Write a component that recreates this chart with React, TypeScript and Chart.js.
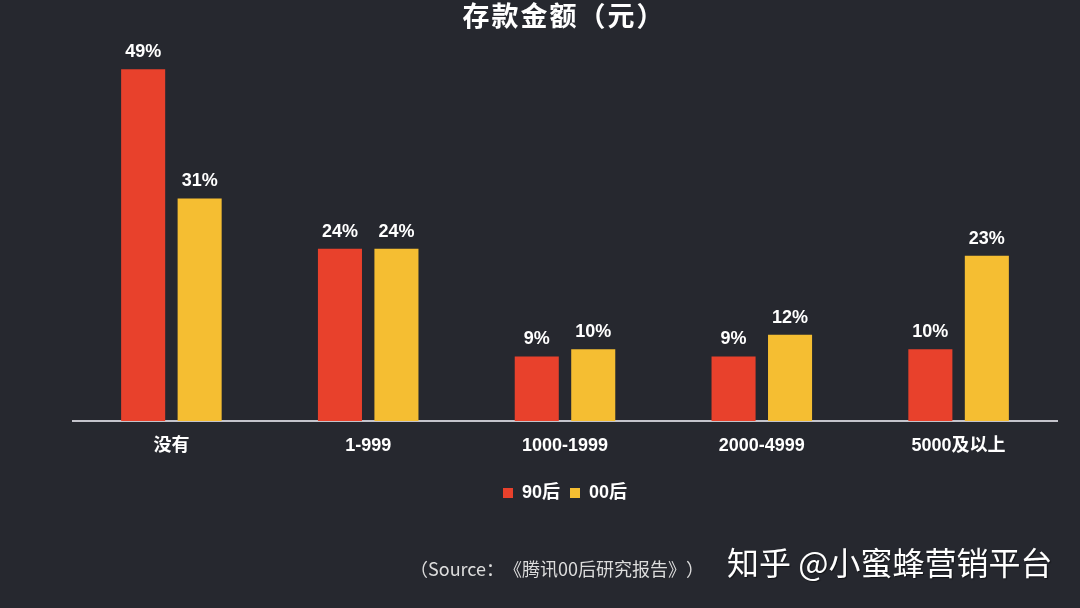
import React, { useEffect, useRef } from "react";
import { Chart, registerables } from "chart.js";

Chart.register(...registerables);

const categories = ["没有", "1-999", "1000-1999", "2000-4999", "5000及以上"];
const seriesNames = ["90后", "00后"];
const series90 = [49, 24, 9, 9, 10];
const series00 = [31, 24, 10, 12, 23];
const titleText = "存款金额（元）";
const sourceText = "（Source：《腾讯00后研究报告》）";
const watermarkText = "知乎 @小蜜蜂营销平台";

const BG = "#26282f";
const RED = "#e8412c";
const YELLOW = "#f5be32";
const FONT = "'Liberation Sans', 'Noto Sans CJK SC', sans-serif";

const valueLabels = {
  id: "valueLabels",
  afterDatasetsDraw(chart: any) {
    const ctx = chart.ctx;
    ctx.save();
    ctx.font = `bold 18px ${FONT}`;
    ctx.fillStyle = "#ffffff";
    ctx.textAlign = "center";
    ctx.textBaseline = "alphabetic";
    chart.data.datasets.forEach((ds: any, i: number) => {
      const meta = chart.getDatasetMeta(i);
      meta.data.forEach((el: any, j: number) => {
        ctx.fillText(`${ds.data[j]}%`, el.x, el.y - 12);
      });
    });
    ctx.restore();
  },
};

export default function App() {
  const ref = useRef<HTMLCanvasElement>(null);

  useEffect(() => {
    if (!ref.current) return;
    const chart = new Chart(ref.current, {
      type: "bar",
      data: {
        labels: categories,
        datasets: [
          {
            label: seriesNames[0],
            data: series90,
            backgroundColor: RED,
            categoryPercentage: 0.574,
            barPercentage: 0.78,
          },
          {
            label: seriesNames[1],
            data: series00,
            backgroundColor: YELLOW,
            categoryPercentage: 0.574,
            barPercentage: 0.78,
          },
        ],
      },
      options: {
        responsive: false,
        animation: false,
        layout: { padding: { top: 62, left: 73, right: 23, bottom: 96 } },
        scales: {
          y: { display: false, min: 0, max: 50 },
          x: {
            grid: { display: false, drawTicks: false },
            border: { display: true, color: "#c4c4cc", width: 2 },
            ticks: {
              color: "#ffffff",
              padding: 14,
              font: { family: FONT, size: 18, weight: "bold" },
            },
            afterFit: (axis: any) => {
              axis.height = 53;
            },
          },
        },
        plugins: {
          title: { display: false },
          tooltip: { enabled: false },
          legend: {
            position: "bottom",
            labels: {
              color: "#ffffff",
              boxWidth: 10,
              boxHeight: 10,
              padding: 10,
              font: { family: FONT, size: 18, weight: "bold" },
            },
          },
        },
      },
      plugins: [valueLabels],
    });
    return () => chart.destroy();
  }, []);

  const trim: any = { textSpacingTrim: "space-all" };

  return (
    <div style={{ position: "fixed", left: 0, top: 0, width: 1080, height: 608, background: BG, overflow: "hidden" }}>
      <canvas ref={ref} width={1080} height={608} style={{ position: "absolute", left: 0, top: 0 }} />
      <div
        style={{
          position: "absolute",
          left: 7,
          top: 0,
          width: 1114,
          textAlign: "center",
          color: "#ffffff",
          fontFamily: FONT,
          fontWeight: "bold",
          fontSize: 27,
          letterSpacing: 2,
          lineHeight: "34px",
          ...trim,
        }}
      >
        {titleText}
      </div>
      <div
        style={{
          position: "absolute",
          left: 410,
          top: 555,
          color: "#dcdcdc",
          fontFamily: "'Noto Sans CJK SC', sans-serif",
          fontSize: 18,
          lineHeight: "26px",
          whiteSpace: "nowrap",
          ...trim,
        }}
      >
        {sourceText}
      </div>
      <div
        style={{
          position: "absolute",
          left: 727,
          top: 540,
          color: "#ffffff",
          fontFamily: "'Noto Sans CJK SC', sans-serif",
          fontSize: 32,
          lineHeight: "42px",
          whiteSpace: "nowrap",
          textShadow: "1px 1px 1px rgba(0,0,0,0.5)",
        }}
      >
        {watermarkText}
      </div>
    </div>
  );
}
